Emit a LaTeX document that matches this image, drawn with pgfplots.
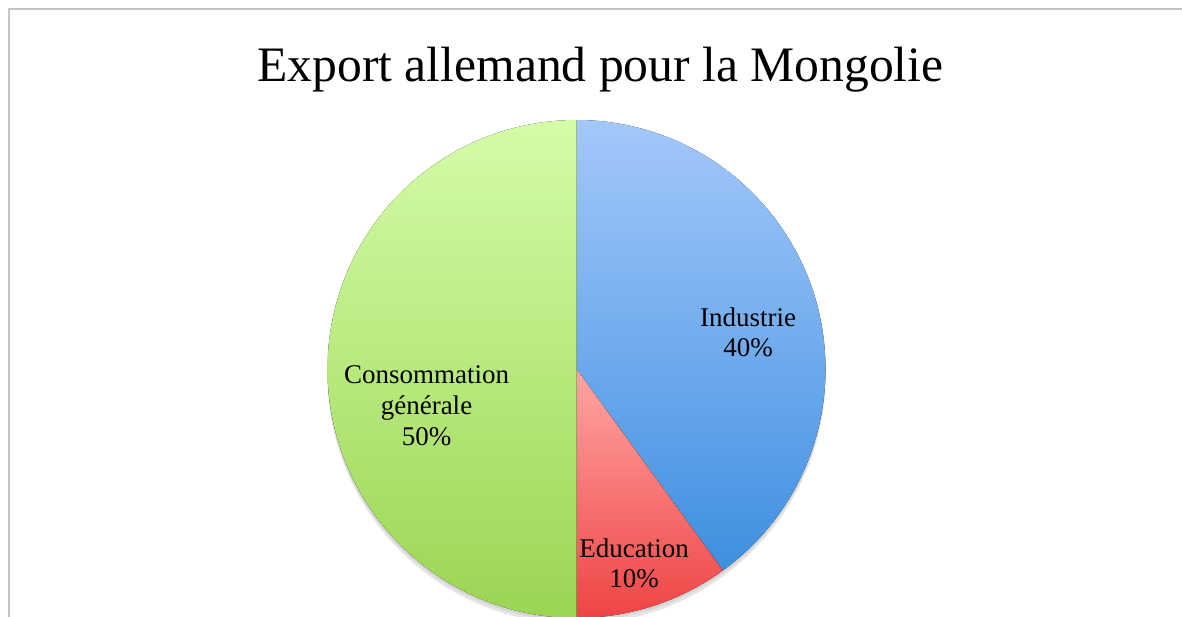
\documentclass[border=0pt]{standalone}
\usepackage{fontspec}
\setmainfont{Liberation Serif}
\usepackage{pgfplots}
\pgfplotsset{compat=1.18}

% slice values (percent)
\def\valInd{40}
\def\valEdu{10}
\def\valCon{50}

\definecolor{blueTop}{HTML}{A4C8FB}
\definecolor{blueBot}{HTML}{3E8FE0}
\definecolor{redTop}{HTML}{FFA6A3}
\definecolor{redBot}{HTML}{EE4444}
\definecolor{greenTop}{HTML}{D5FCA8}
\definecolor{greenBot}{HTML}{9BD553}
\definecolor{frame}{HTML}{C4C4C4}

\begin{document}
\begin{tikzpicture}
\useasboundingbox (0,0) rectangle (591pt,308pt);
% angles from the values, clockwise from 12 o'clock
\pgfmathsetmacro\aStart{90}
\pgfmathsetmacro\aInd{\aStart-3.6*\valInd}
\pgfmathsetmacro\aEdu{\aInd-3.6*\valEdu}
\pgfmathsetmacro\aCon{\aEdu-3.6*\valCon}
\def\cx{288.25}
\def\cy{123.5}
\def\R{124.5}
\begin{axis}[
    at={(0pt,0pt)}, anchor=south west,
    x=1pt, y=1pt, scale only axis,
    xmin=0, xmax=591, ymin=0, ymax=308,
    hide axis, clip=false,
]
  % frame of the chart area
  \draw[frame, line width=1.4pt] (axis cs:4.5,-10) -- (axis cs:4.5,303.5) -- (axis cs:600,303.5);

  % soft shadow, mostly below the pie
  \fill[black!10] (axis cs:\cx,\cy-3) circle[radius=\R];
  \fill[black!16] (axis cs:\cx,\cy-1.5) circle[radius=\R];

  % slices
  \fill[shading=axis, top color=blueTop, bottom color=blueBot]
    (axis cs:\cx,\cy) -- ++(\aStart:\R pt) arc[start angle=\aStart, end angle=\aInd, radius=\R pt] -- cycle;
  \fill[shading=axis, top color=redTop, bottom color=redBot]
    (axis cs:\cx,\cy) -- ++(\aInd:\R pt) arc[start angle=\aInd, end angle=\aEdu, radius=\R pt] -- cycle;
  \fill[shading=axis, top color=greenTop, bottom color=greenBot]
    (axis cs:\cx,\cy) -- ++(\aEdu:\R pt) arc[start angle=\aEdu, end angle=\aCon, radius=\R pt] -- cycle;

  % title
  \node[anchor=base, font=\fontsize{24.8}{29}\selectfont] at (axis cs:300.25,267) {Export allemand pour la Mongolie};

  % slice labels
  \begin{scope}[every node/.style={anchor=base, font=\fontsize{13.5}{15}\selectfont, inner sep=0pt}]
    \node at (axis cs:374,144.5) {Industrie};
    \node at (axis cs:374,129.5) {\valInd\%};
    \node at (axis cs:213.25,116.5) {Consommation};
    \node at (axis cs:213.25,101) {générale};
    \node at (axis cs:213.25,85.5) {\valCon\%};
    \node at (axis cs:317,29.5) {Education};
    \node at (axis cs:317,14.5) {\valEdu\%};
  \end{scope}
\end{axis}
\end{tikzpicture}
\end{document}
